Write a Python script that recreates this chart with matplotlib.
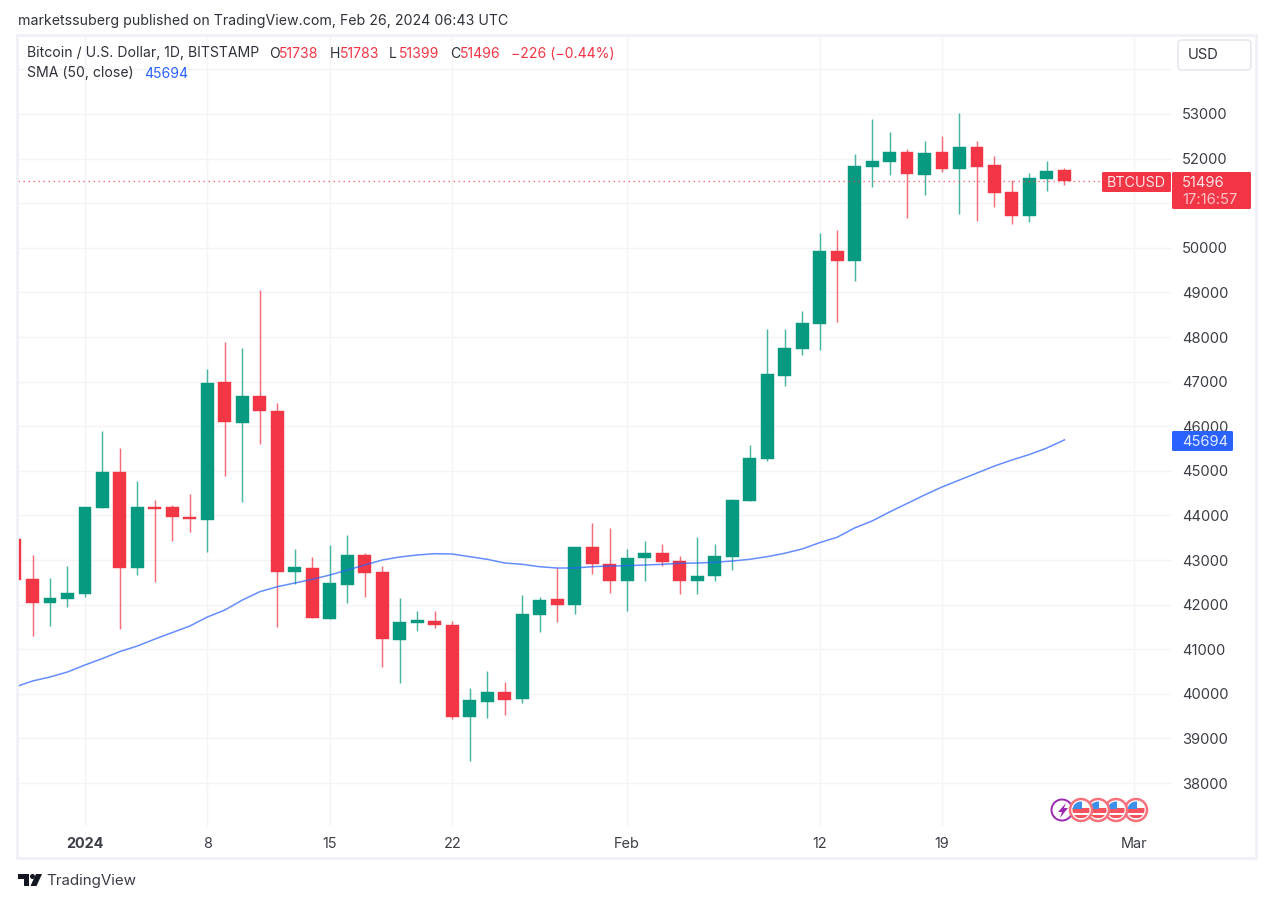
"""BTC/USD daily candles with SMA 50, TradingView style."""

import matplotlib

matplotlib.use("Agg")
import matplotlib.pyplot as plt
import numpy as np
import pandas as pd
from matplotlib.patches import Circle, FancyBboxPatch, Polygon, Rectangle

plt.rcParams["font.family"] = ["Inter", "DejaVu Sans"]

W, H = 1282, 902
GREEN = "#089981"
RED = "#F23645"
BLUE = "#2962FF"
GRID = "#F4F4F6"
FRAME = "#EFF1F7"
TEXT = "#2f323a"

start_date = "2023-12-28"

opens = [43470, 42575, 42043, 42120, 42232, 44160, 44967, 42815, 44189, 44182,
         43971, 43897, 46998, 46065, 46678, 46335, 42738, 42815, 41671, 42447,
         43106, 42732, 41207, 41582, 41633, 41550, 39487, 39817, 40048, 39891,
         41774, 42120, 41985, 43299, 42918, 42530, 43039, 43164, 42972, 42530,
         42635, 43061, 44323, 45265, 47119, 47731, 48298, 49928, 49698, 51812,
         51917, 52155, 51626, 52155, 51760, 52267, 51863, 51245, 50713, 51543,
         51738]
highs = [43470, 43113, 42604, 42866, 44182, 45900, 45505, 44779, 44346, 44234,
         44480, 47283, 47888, 47754, 49054, 46514, 43241, 43061, 43330, 43568,
         43164, 42866, 42142, 41850, 41850, 41633, 40131, 40505, 40265, 42223,
         42164, 42815, 43299, 43837, 43725, 43247, 43433, 43353, 43084, 43510,
         43353, 44368, 45579, 48180, 48180, 48583, 50332, 50393, 52103, 52881,
         52590, 52209, 52401, 52507, 53016, 52401, 52052, 51514, 51670, 51940,
         51783]
lows = [42550, 41297, 41528, 41954, 42178, 44160, 41454, 42658, 42501, 43433,
        43622, 43187, 44891, 44294, 45595, 41505, 42456, 41694, 41671, 42043,
        42178, 40595, 40250, 41416, 41476, 39443, 38501, 39465, 39519, 39788,
        41393, 41617, 41797, 42687, 42254, 41857, 42530, 42873, 42232, 42232,
        42530, 42770, 44323, 45227, 46902, 47597, 47709, 48337, 49256, 51357,
        51626, 50662, 51191, 51700, 50765, 50608, 50922, 50527, 50579, 51274,
        51399]
closes = [42550, 42043, 42142, 42254, 44182, 44967, 42815, 44182, 44150, 43971,
          43927, 46976, 46095, 46678, 46335, 42738, 42837, 41694, 42492, 43106,
          42716, 41236, 41604, 41662, 41537, 39487, 39862, 40048, 39869, 41790,
          42111, 41985, 43299, 42904, 42530, 43052, 43164, 42956, 42530, 42649,
          43084, 44346, 45281, 47164, 47747, 48314, 49928, 49698, 51834, 51940,
          52155, 51648, 52132, 51760, 52267, 51812, 51222, 50713, 51565, 51729,
          51496]
sma50 = [40153, 40288, 40378, 40490, 40647, 40792, 40949, 41073, 41229, 41375,
         41521, 41723, 41880, 42104, 42290, 42402, 42485, 42568, 42664, 42776,
         42889, 43001, 43068, 43113, 43142, 43135, 43075, 43016, 42933, 42904,
         42850, 42821, 42821, 42850, 42866, 42873, 42889, 42904, 42927, 42933,
         42949, 42978, 43016, 43075, 43151, 43247, 43389, 43510, 43718, 43875,
         44077, 44267, 44458, 44637, 44794, 44951, 45108, 45243, 45366, 45512,
         45694]
price_ticks = list(range(38000, 53001, 1000))
date_ticks = ["2024-01-01", "2024-01-08", "2024-01-15", "2024-01-22",
              "2024-02-01", "2024-02-12", "2024-02-19", "2024-03-01"]
date_labels = ["2024", "8", "15", "22", "Feb", "12", "19", "Mar"]

last_price = closes[-1]
last_sma = sma50[-1]
dates = pd.date_range(start_date, periods=len(closes))

fig = plt.figure(figsize=(W / 100, H / 100), dpi=100, facecolor="white")

# chart pane: px 18..1172 across, 35..826 down
ax = fig.add_axes([18 / W, 1 - 826 / H, (1172 - 18) / W, (826 - 35) / H])
ax.set_facecolor("white")
ax.set_xlim(pd.Timestamp("2024-01-01") + pd.Timedelta(days=-3.83),
            pd.Timestamp("2024-01-01") + pd.Timedelta(days=62.15))
ax.set_ylim(37037, 54771)
for s in ax.spines.values():
    s.set_visible(False)

# the 51000 label sits behind the countdown box in the original
ax.set_yticks(price_ticks + [54000])
ax.set_yticklabels([str(p) if p != 51000 else "" for p in price_ticks] + [""])
ax.yaxis.tick_right()
ax.tick_params(axis="y", length=0, pad=7.0, labelsize=10.6, labelcolor="#3a3d45")
ax.set_xticks(pd.to_datetime(date_ticks))
ax.set_xticklabels(date_labels)
ax.tick_params(axis="x", length=0, pad=8, labelsize=10.4, labelcolor="#3a3d45")
ax.get_xticklabels()[0].set_fontweight("bold")
ax.grid(True, color=GRID, lw=1.0)
ax.set_axisbelow(True)

o, h, l, c = map(np.array, (opens, highs, lows, closes))
colors = [GREEN if up else RED for up in c >= o]
ax.vlines(dates, l, h, colors=colors, lw=1.05, alpha=0.72, zorder=2)
ax.bar(dates, np.abs(c - o), bottom=np.minimum(o, c), width=0.74, color=colors,
       edgecolor=colors, lw=0.3, zorder=3)
ax.plot(dates, sma50, color=BLUE, lw=1.1, alpha=0.72, zorder=4)
ax.axhline(last_price, color=RED, lw=1.0, ls=(0, (1, 2.6)), alpha=0.75, zorder=4)

# page furniture, in pixel coords
ov = fig.add_axes([0, 0, 1, 1], facecolor="none")
ov.set_xlim(0, W)
ov.set_ylim(H, 0)
ov.axis("off")

ov.add_patch(Rectangle((17, 34.5), 1239, 823.5, fill=False, ec=FRAME, lw=2))
ov.text(18, 21.5, "marketssuberg published on TradingView.com, Feb 26, 2024 06:43 UTC",
        fontsize=10.2, color=TEXT, va="center")

ov.text(27, 53.5, "Bitcoin / U.S. Dollar, 1D, BITSTAMP", fontsize=10.1, color=TEXT, va="center")
for x, s, col in [(269, "O", TEXT), (279, f"{opens[-1]}", RED),
                  (330, "H", TEXT), (340, f"{highs[-1]}", RED),
                  (389, "L", TEXT), (399, f"{lows[-1]}", RED),
                  (450, "C", TEXT), (460, f"{closes[-1]}", RED),
                  (511, "\u2212226 (\u22120.44%)", RED)]:
    ov.text(x, 53.5, s, fontsize=10.1, color=col, va="center")
ov.text(27, 73.5, "SMA (50, close)", fontsize=10.1, color=TEXT, va="center")
ov.text(144, 73.5, f"{last_sma}", fontsize=10.1, color=BLUE, va="center")

# USD button
ov.add_patch(FancyBboxPatch((1178, 40), 73, 30, boxstyle="round,pad=0,rounding_size=4",
                            fc="white", ec="#E6E8EF", lw=1.2))
ov.text(1188, 55, "USD", fontsize=10.6, color=TEXT, va="center")

# price labels
ov.add_patch(FancyBboxPatch((1102, 172), 69, 20, boxstyle="round,pad=0,rounding_size=1.5",
                            fc=RED, ec="none"))
ov.text(1107, 183, "BTCUSD", fontsize=10.3, color="#ffe3e6", va="center")
ov.add_patch(FancyBboxPatch((1172, 172), 79, 37, boxstyle="round,pad=0,rounding_size=1.5",
                            fc=RED, ec="none"))
ov.text(1182, 183, f"{last_price}", fontsize=10.6, color="#ffe3e6", va="center")
ov.text(1182, 199.5, "17:16:57", fontsize=10.6, color="#ffc4ca", va="center")
ov.add_patch(FancyBboxPatch((1172, 431), 61, 20, boxstyle="round,pad=0,rounding_size=1.5",
                            fc=BLUE, ec="none"))
ov.text(1182, 441.5, f"{last_sma}", fontsize=10.6, color="#e4ebff", va="center")

# event badges
ov.add_patch(Circle((1062, 810), 10.5, fc="white", ec="#9C27B0", lw=1.4))
ov.add_patch(Polygon([(1066, 803), (1058, 812), (1062, 812), (1060, 818), (1068, 808), (1064, 808)],
                     fc="#9C27B0", ec="none"))
for cx in (1136, 1116, 1098, 1081):
    ring = Circle((cx, 810), 11, fc="white", ec="#F9717C", lw=1.8)
    ov.add_patch(ring)
    inner = Circle((cx, 810), 8.5, transform=ov.transData)
    for patch in (Rectangle((cx - 9, 808), 18, 4.5, fc="#F7525F", ec="none"),
                  Rectangle((cx - 9, 815), 18, 3, fc="#F7525F", ec="none"),
                  Rectangle((cx - 9, 801), 10, 8, fc="#3E8FEA", ec="none")):
        ov.add_patch(patch)
        patch.set_clip_path(inner)

# TradingView logo
ov.add_patch(Polygon([(18, 874), (29, 874), (29, 886), (24, 886), (24, 879), (18, 879)],
                     fc="#131722", ec="none"))
ov.add_patch(Circle((32.5, 876.5), 2.5, fc="#131722", ec="none"))
ov.add_patch(Polygon([(36, 874), (42, 874), (36.5, 886), (30.5, 886)], fc="#131722", ec="none"))
ov.text(46, 881.5, "TradingView", fontsize=10.9, color="#3a3d45", va="center")

fig.savefig("out.png", dpi=100)
plt.close(fig)
